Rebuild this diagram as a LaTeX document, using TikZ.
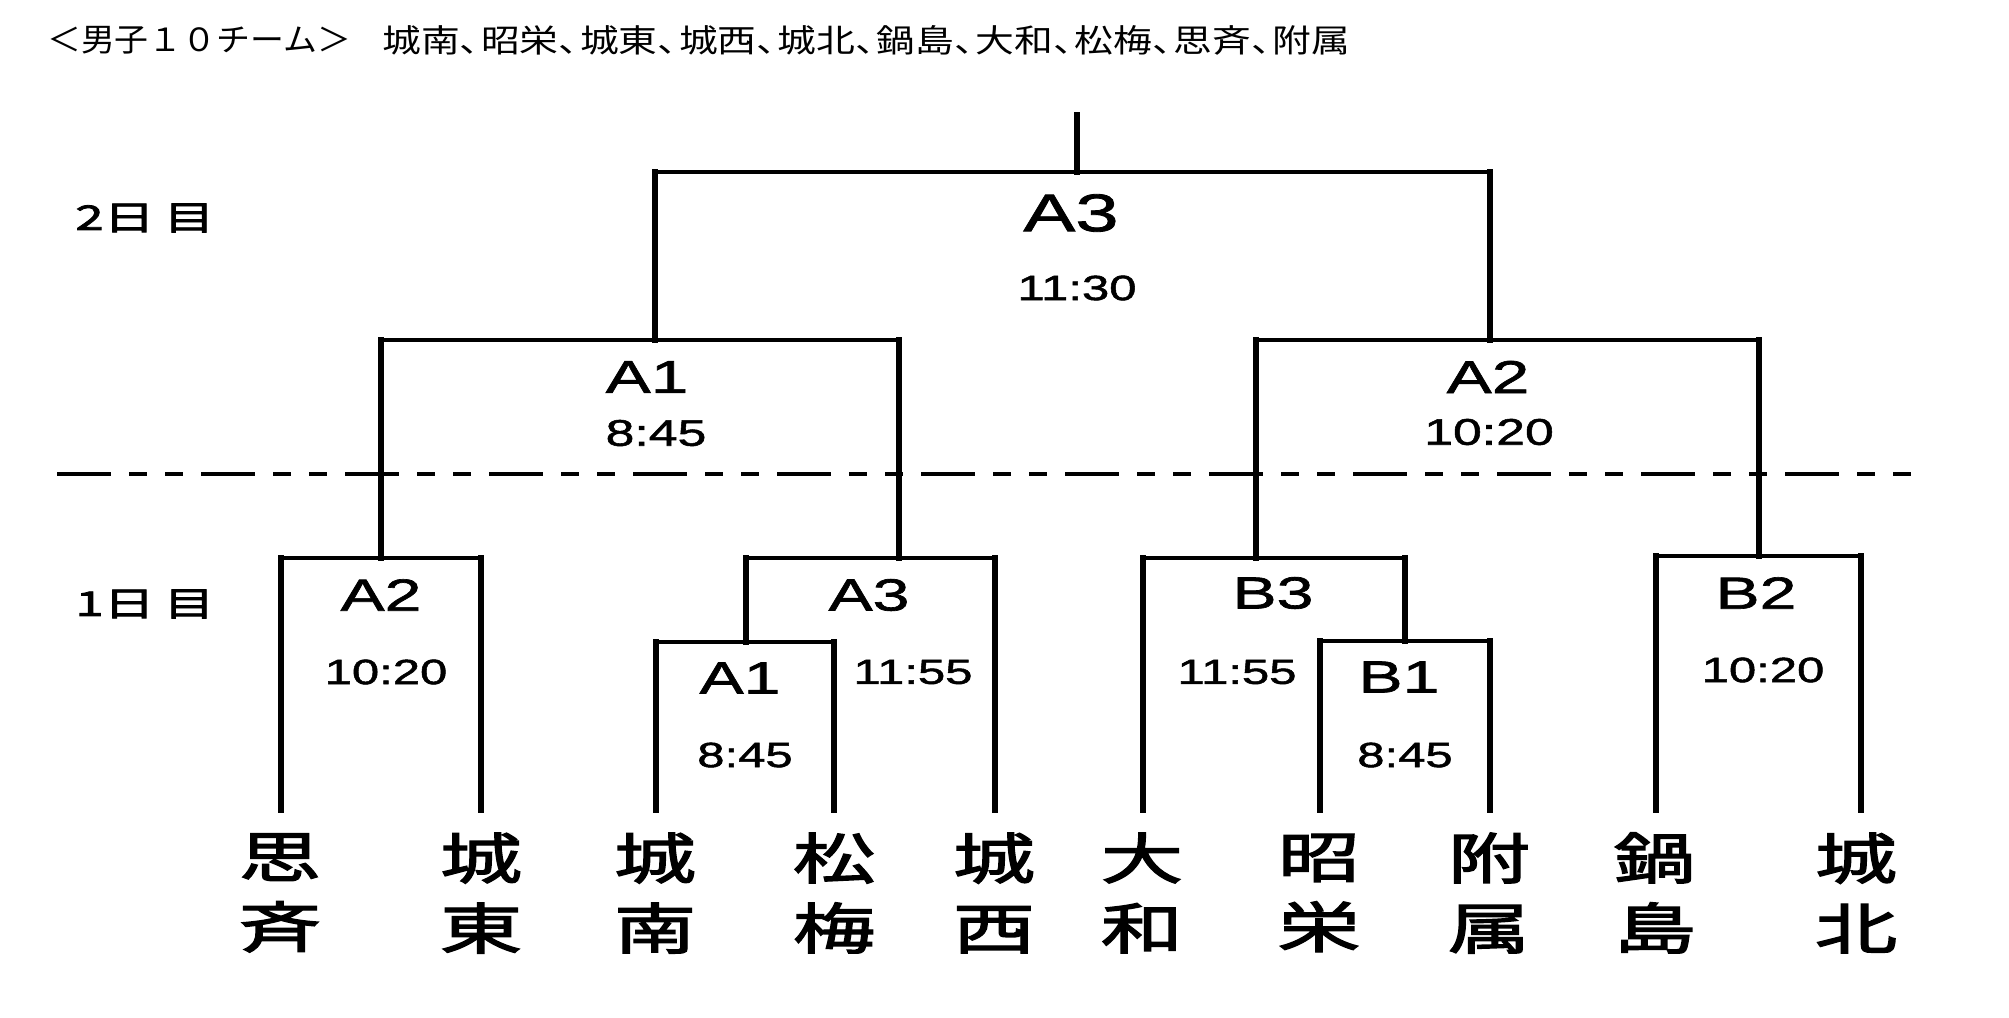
\documentclass[tikz,border=0pt]{standalone}
\usepackage{fontspec}
\usepackage{graphicx}
\newfontfamily\lblfont{Liberation Sans}[FakeStretch=1.47, FakeBold=1.5]
\newfontfamily\timfont{Liberation Sans}[FakeStretch=1.40, FakeBold=1.5]
\newfontfamily\cjkwide{Noto Sans CJK JP}[FakeStretch=1.5, FakeBold=2.5]
\newfontfamily\titlefont{Noto Sans CJK JP}
\newcommand\tc{、\kern-0.45em}
\newcommand\bkt[3]{%
  \draw[hl] (#1 |- #2) -- (#3 |- #2);
  \draw[vl] (#1) -- (#1 |- #2);
  \draw[vl] (#3) -- (#3 |- #2);}
\tikzset{
  hl/.style={line width=3.8pt, line cap=rect},
  vl/.style={line width=6pt, line cap=rect},
  daysep/.style={line width=4.5pt, dash pattern=on 54pt off 18pt on 18pt off 18pt on 18pt off 18pt},
  lblA/.style={inner sep=0pt, font=\lblfont\fontsize{53}{53}\selectfont},
  lblB/.style={inner sep=0pt, font=\lblfont\fontsize{46}{46}\selectfont},
  lblC/.style={inner sep=0pt, font=\lblfont\fontsize{45}{45}\selectfont},
  tmA/.style={inner sep=0pt, font=\timfont\fontsize{35}{35}\selectfont},
  tmB/.style={inner sep=0pt, font=\timfont\fontsize{37}{37}\selectfont},
  tmC/.style={inner sep=0pt, font=\timfont\fontsize{35}{35}\selectfont},
  team/.style={inner sep=0pt, align=center, font=\cjkwide\fontsize{55}{70}\selectfont},
  daylbl/.style={inner sep=0pt, font=\cjkwide\fontsize{34}{34}\selectfont},
  ttl/.style={inner sep=0pt, anchor=west, font=\titlefont\fontsize{32}{32}\selectfont},
}
\begin{document}
\begin{tikzpicture}[x=1pt,y=-1pt]
\fill[white] (0,0) rectangle (2009,1017);
\useasboundingbox (0,0) rectangle (2009,1017);

% title
\node[ttl] (ttl1) at (47,40) {\resizebox{304pt}{\height}{＜男子１０チーム＞}};
\node[ttl] (ttl2) at (382,40) {\resizebox{968pt}{\height}{城南\tc 昭栄\tc 城東\tc 城西\tc 城北\tc 鍋島\tc 大和\tc 松梅\tc 思斉\tc 附属}};

% day labels
\node[daylbl] (day2) at (145,218) {2日\hspace{9pt}目};
\node[daylbl] (day1) at (145,604) {1日\hspace{9pt}目};

% leaves
\coordinate (L1) at (281,810);
\coordinate (L2) at (481,810);
\coordinate (L3) at (656,810);
\coordinate (L4) at (834,810);
\coordinate (L5) at (995,810);
\coordinate (L6) at (1143,810);
\coordinate (L7) at (1320,810);
\coordinate (L8) at (1490,810);
\coordinate (L9) at (1656,810);
\coordinate (L10) at (1861,810);
% junctions
\coordinate (jA2a) at (381,558);
\coordinate (jA1a) at (746,642);
\coordinate (jA3a) at (899,558);
\coordinate (jB1) at (1405,641);
\coordinate (jB3) at (1256,558);
\coordinate (jB2) at (1759,556);
\coordinate (jA1b) at (655,340);
\coordinate (jA2b) at (1490,340);
\coordinate (jA3b) at (1077,172);
\coordinate (top) at (1077,115);

% day separator
\coordinate (dl) at (57,474);
\coordinate (dr) at (1925,474);
\draw[daysep] (dl) -- (dr);

% brackets
\bkt{L1}{jA2a}{L2}
\bkt{L3}{jA1a}{L4}
\bkt{jA1a}{jA3a}{L5}
\bkt{L7}{jB1}{L8}
\bkt{L6}{jB3}{jB1}
\bkt{L9}{jB2}{L10}
\bkt{jA2a}{jA1b}{jA3a}
\bkt{jB3}{jA2b}{jB2}
\bkt{jA1b}{jA3b}{jA2b}
\draw[vl] (jA3b) -- (top);

% day 2 labels
\node[lblA] (m9) at (1071,213) {A3};
\node[tmA] (m9t) at (1077,288) {11:30};
\node[lblB] (m7) at (647,377) {A1};
\node[tmB] (m7t) at (656,433) {8:45};
\node[lblB] (m8) at (1488,377) {A2};
\node[tmB] (m8t) at (1489,432) {10:20};
% day 1 labels
\node[lblC] (m1) at (381,595) {A2};
\node[tmC] (m1t) at (386,672) {10:20};
\node[lblC] (m3) at (869,595) {A3};
\node[tmC] (m3t) at (913,672) {11:55};
\node[lblC] (m2) at (740,678) {A1};
\node[tmC] (m2t) at (745,755) {8:45};
\node[lblC] (m5) at (1273,593) {B3};
\node[tmC] (m5t) at (1237,672) {11:55};
\node[lblC] (m4) at (1399,677) {B1};
\node[tmC] (m4t) at (1405,755) {8:45};
\node[lblC] (m6) at (1756,593) {B2};
\node[tmC] (m6t) at (1763,670) {10:20};

% teams
\node[team] (t1) at (280,893) {思\\斉};
\node[team] (t2) at (481,893) {城\\東};
\node[team] (t3) at (655,893) {城\\南};
\node[team] (t4) at (834,893) {松\\梅};
\node[team] (t5) at (994,893) {城\\西};
\node[team] (t6) at (1142,893) {大\\和};
\node[team] (t7) at (1319,893) {昭\\栄};
\node[team] (t8) at (1489,893) {附\\属};
\node[team] (t9) at (1655,893) {鍋\\島};
\node[team] (t10) at (1856,893) {城\\北};
\end{tikzpicture}
\end{document}
